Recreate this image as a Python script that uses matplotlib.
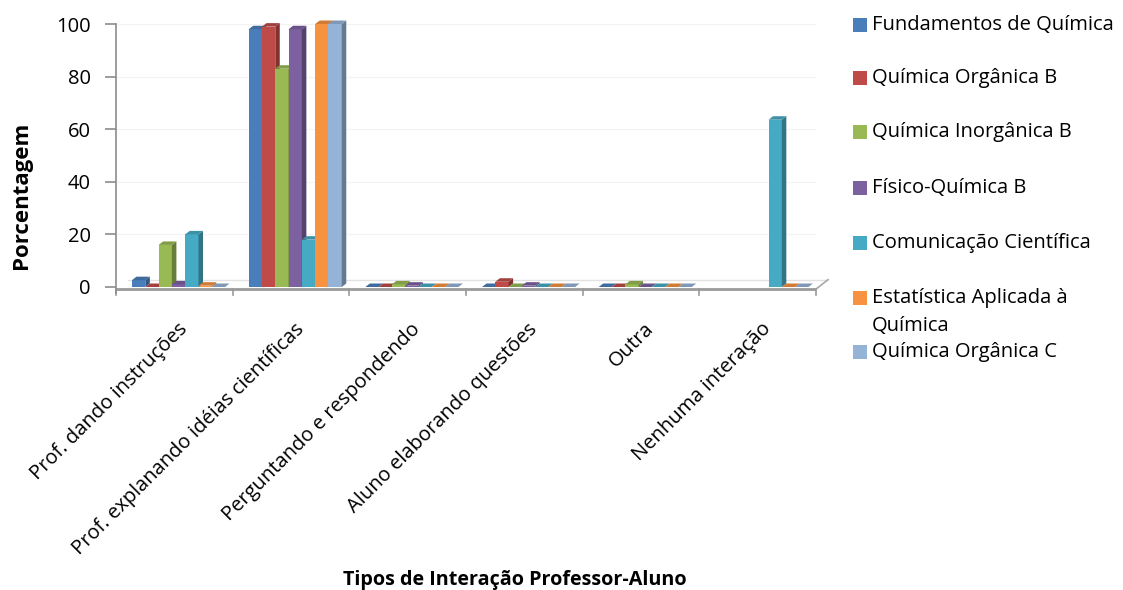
import matplotlib
matplotlib.use("Agg")
import matplotlib.pyplot as plt
from matplotlib.patches import Polygon, Rectangle
from matplotlib.colors import to_rgb
from matplotlib.transforms import ScaledTranslation
import numpy as np

plt.rcParams['font.family'] = ['Open Sans', 'DejaVu Sans']

categories = ["Prof. dando instruções",
              "Prof. explanando idéias científicas",
              "Perguntando e respondendo",
              "Aluno elaborando questões",
              "Outra",
              "Nenhuma interação"]

series_names = ["Fundamentos de Química",
                "Química Orgânica B",
                "Química Inorgânica B",
                "Físico-Química B",
                "Comunicação Científica",
                "Estatística Aplicada à\nQuímica",
                "Química Orgânica C"]

fundamentos_quimica = [2.6, 98, 0, 0, 0, None]
quimica_organica_b = [0, 99, 0, 2, 0, None]
quimica_inorganica_b = [16, 83, 1, 0, 1, None]
fisico_quimica_b = [1, 98, 0.5, 0.5, 0, None]
comunicacao_cientifica = [20, 18, 0, 0, 0, 63.6]
estatistica_aplicada = [0.5, 100, 0, 0, 0, 0]
quimica_organica_c = [0, 100, 0, 0, 0, 0]

series_values = [fundamentos_quimica, quimica_organica_b, quimica_inorganica_b,
                 fisico_quimica_b, comunicacao_cientifica, estatistica_aplicada,
                 quimica_organica_c]

colors = ["#4A7EBB", "#BE4B48", "#98B954", "#7D60A0",
          "#46AAC5", "#F69240", "#95B3D7"]

y_ticks = [0, 20, 40, 60, 80, 100]

FS = 14.5

W, H = 1123, 590
fig = plt.figure(figsize=(W / 100, H / 100), dpi=100)
ax_l, ax_r, ax_t, ax_b = 116, 816, 24, 287
ax = fig.add_axes([ax_l / W, 1 - ax_b / H, (ax_r - ax_l) / W, (ax_b - ax_t) / H])

n_cat = len(categories)
ax.set_xlim(0, n_cat)
ax.set_ylim(0, 100)

# pixel -> data scale factors for the pseudo-3D depth
px_x = n_cat / (ax_r - ax_l)
px_y = 100 / (ax_b - ax_t)
dx, dy = 4.5 * px_x, 3.5 * px_y


def shade(c, f):
    r, g, b = to_rgb(c)
    return (r * f, g * f, b * f)


# faint wall gridlines
for t in y_ticks[1:]:
    ax.axhline(t, color="#F3F3F3", lw=0.8, zorder=0)

# floor
f_front, f_back = -0.8, 2.8
f_shift = 12 * px_x
ax.add_patch(Polygon([(0, f_front), (n_cat, f_front), (n_cat + f_shift, f_back),
                      (f_shift, f_back)], closed=True, facecolor="white",
                     edgecolor="none", zorder=1, clip_on=False))
ax.plot([0, n_cat], [f_front, f_front], color="#9A9A9A", lw=2.0, zorder=2,
        clip_on=False, solid_capstyle="butt")
ax.plot([f_shift, n_cat + f_shift], [f_back, f_back], color="#E2E2E2", lw=1.0,
        zorder=1.5, clip_on=False)
ax.plot([n_cat, n_cat + f_shift], [f_front, f_back], color="#A8A8A8", lw=1.2,
        zorder=2, clip_on=False)

# 3D-looking clustered bars
bar_w = 13.3 * px_x
start = 16 * px_x
z = 3
for ci in range(n_cat):
    for si, vals in enumerate(series_values):
        v = vals[ci]
        if v is None:
            continue
        x0 = ci + start + si * bar_w
        c = colors[si]
        ax.add_patch(Rectangle((x0, 0), bar_w, v, facecolor=c, edgecolor="none",
                               zorder=z, clip_on=False))
        ax.add_patch(Polygon([(x0 + bar_w, 0), (x0 + bar_w + dx, dy),
                              (x0 + bar_w + dx, v + dy), (x0 + bar_w, v)],
                             closed=True, facecolor=shade(c, 0.68),
                             edgecolor="none", zorder=z, clip_on=False))
        ax.add_patch(Polygon([(x0, v), (x0 + bar_w, v), (x0 + bar_w + dx, v + dy),
                              (x0 + dx, v + dy)], closed=True,
                             facecolor=shade(c, 0.85), edgecolor="none",
                             zorder=z, clip_on=False))
        z += 0.01

# axes styling
for s in ["top", "right", "bottom"]:
    ax.spines[s].set_visible(False)
ax.spines["left"].set_color("#8C8C8C")
ax.spines["left"].set_linewidth(1.2)
ax.spines["left"].set_bounds(f_front - 1.5, 100)

ax.set_yticks(y_ticks)
ax.tick_params(axis="y", length=8, width=1.2, color="#8C8C8C", labelsize=FS,
               pad=10)

centers = np.arange(n_cat) + 0.5
ax.set_xticks(centers)
ax.set_xticklabels(categories, rotation=45, ha="right", rotation_mode="anchor",
                   fontsize=FS)
ax.tick_params(axis="x", length=0, pad=0)
off = ScaledTranslation(3 / 100, -32 / 100, fig.dpi_scale_trans)
for lab in ax.get_xticklabels():
    lab.set_transform(lab.get_transform() + off)

# category boundary ticks below the floor
for b in range(n_cat + 1):
    ax.plot([b, b], [f_front, f_front - 2.2], color="#9A9A9A", lw=1.2,
            clip_on=False, zorder=2)

fig.text(22 / W, 1 - 195 / H, "Porcentagem", rotation=90, ha="center",
         va="center", fontsize=16, fontweight="bold")
fig.text(515 / W, 1 - 580 / H, "Tipos de Interação Professor-Aluno",
         ha="center", va="center", fontsize=14.2, fontweight="bold")

# legend
leg_y = [25, 78, 132, 188, 243, 298, 352]
for name, c, yy in zip(series_names, colors, leg_y):
    fig.patches.append(Rectangle((853 / W, 1 - (yy + 7) / H), 14 / W, 14 / H,
                                 facecolor=c, edgecolor="none",
                                 transform=fig.transFigure, figure=fig))
    lines = name.split("\n")
    for k, line in enumerate(lines):
        fig.text(872 / W, 1 - (yy + 28 * k) / H, line, ha="left", va="center",
                 fontsize=FS)

fig.savefig("out.png", dpi=100, facecolor="white")
